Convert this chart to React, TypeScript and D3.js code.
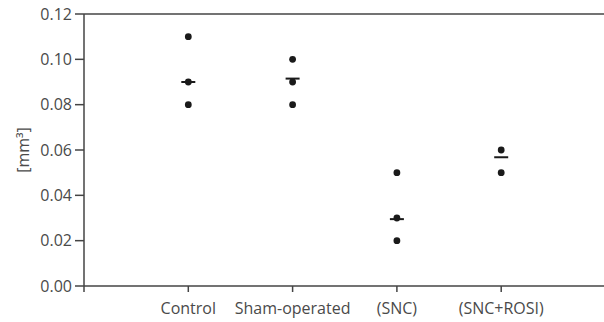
import React from "react";
import * as d3 from "d3";

const groups = ["Control", "Sham-operated", "(SNC)", "(SNC+ROSI)"];
const points = [
  [0.11, 0.09, 0.08],
  [0.1, 0.09, 0.08],
  [0.05, 0.03, 0.02],
  [0.06, 0.05],
];
const centers = [0.09, 0.0915, 0.0295, 0.0568];
const yTicks = [0, 0.02, 0.04, 0.06, 0.08, 0.1, 0.12];

const App = () => {
  const width = 604;
  const height = 322;
  const left = 84;
  const top = 14;
  const bottom = 286;

  const xScale = d3
    .scaleLinear()
    .domain([0, groups.length + 1])
    .range([left, left + 104.3 * (groups.length + 1)]);
  const yScale = d3.scaleLinear().domain([0, 0.12]).range([bottom, top]);

  const font = "'Open Sans', 'Noto Sans', sans-serif";
  const axisColor = "#444";
  const textColor = "#4a4a4a";

  return (
    <div style={{ position: "absolute", left: 0, top: 0 }}>
      <svg width={width} height={height} style={{ display: "block", background: "#fff" }}>
        {/* top frame line */}
        <line x1={left} x2={width} y1={yScale(0.12)} y2={yScale(0.12)} stroke={axisColor} strokeWidth={1.5} />
        {/* y axis */}
        <line x1={left} x2={left} y1={yScale(0.12)} y2={bottom + 6} stroke={axisColor} strokeWidth={1.5} />
        {/* x axis */}
        <line x1={left} x2={width} y1={bottom} y2={bottom} stroke={axisColor} strokeWidth={1.5} />

        {yTicks.map((t) => (
          <g key={`y-${t}`}>
            <line x1={left - 9} x2={left} y1={yScale(t)} y2={yScale(t)} stroke={axisColor} strokeWidth={1.5} />
            <text
              x={left - 12}
              y={yScale(t)}
              dy="0.36em"
              textAnchor="end"
              fontSize={16}
              fontFamily={font}
              fill={textColor}
            >
              {t.toFixed(2)}
            </text>
          </g>
        ))}

        {groups.map((g, i) => (
          <g key={g}>
            <line
              x1={xScale(i + 1)}
              x2={xScale(i + 1)}
              y1={bottom}
              y2={bottom + 6}
              stroke={axisColor}
              strokeWidth={1.5}
            />
            <text
              x={xScale(i + 1)}
              y={314}
              textAnchor="middle"
              fontSize={16}
              fontFamily={font}
              fill={textColor}
            >
              {g}
            </text>
          </g>
        ))}

        {points.map((vals, i) =>
          vals.map((v, j) => (
            <circle key={`p-${i}-${j}`} cx={xScale(i + 1)} cy={yScale(v)} r={3.4} fill="#1a1a1a" />
          ))
        )}

        {centers.map((c, i) => (
          <line
            key={`c-${i}`}
            x1={xScale(i + 1) - 7}
            x2={xScale(i + 1) + 7}
            y1={yScale(c)}
            y2={yScale(c)}
            stroke="#1a1a1a"
            strokeWidth={2}
          />
        ))}

        <text
          transform={`translate(29, ${(top + bottom) / 2}) rotate(-90)`}
          textAnchor="middle"
          fontSize={16}
          fontFamily={font}
          fill={textColor}
        >
          [mm³]
        </text>
      </svg>
    </div>
  );
};

export default App;
